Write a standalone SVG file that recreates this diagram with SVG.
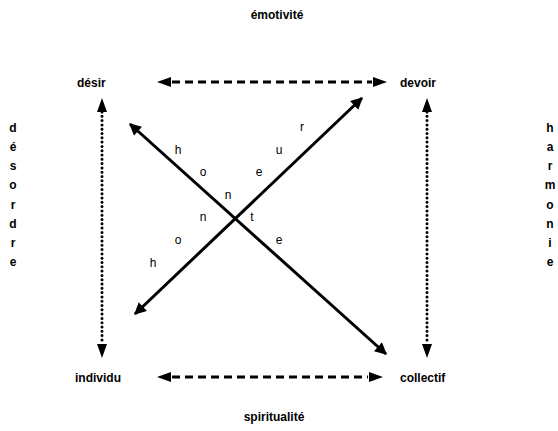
<svg xmlns="http://www.w3.org/2000/svg" width="558" height="431" viewBox="0 0 558 431">
<style>
.lbl{font-family:"Liberation Sans",Arial,sans-serif;font-weight:bold;font-size:12px;fill:#000}
.ltr{font-family:"Liberation Sans",Arial,sans-serif;font-size:12px;fill:#000;text-anchor:middle}
.vl{font-family:"Liberation Sans",Arial,sans-serif;font-weight:bold;font-size:12px;fill:#000;text-anchor:middle}
.dash{stroke:#000;stroke-width:3;fill:none;stroke-dasharray:8 5}
.dot{stroke:#000;stroke-width:3;fill:none;stroke-dasharray:0 4.3;stroke-linecap:round}
.solid{stroke:#000;stroke-width:3;fill:none}
</style>
<defs>
<marker id="ah" viewBox="0 0 10 10" refX="9" refY="5" markerWidth="4.2" markerHeight="4" markerUnits="strokeWidth" orient="auto-start-reverse">
<path d="M0,0 L10,5 L0,10 z" fill="#000"/>
</marker>
</defs>
<rect width="558" height="431" fill="#fff"/>
<g id="connectors">
<line class="dash" x1="172" y1="82" x2="372" y2="82"/>
<path d="M157,82 l14,-5 v10 z M387,82 l-14,-5 v10 z" fill="#000"/>
<line class="dash" x1="172" y1="377" x2="368" y2="377"/>
<path d="M157,377 l14,-5 v10 z M383,377 l-14,-5 v10 z" fill="#000"/>
<line class="dot" x1="102" y1="112" x2="102" y2="344"/>
<path d="M102,98 l-5,14 h10 z M102,358 l-5,-14 h10 z" fill="#000"/>
<line class="dot" x1="427" y1="112" x2="427" y2="344"/>
<path d="M427,98 l-5,14 h10 z M427,358 l-5,-14 h10 z" fill="#000"/>
<line class="solid" x1="130" y1="124" x2="386" y2="354" marker-start="url(#ah)" marker-end="url(#ah)"/>
<line class="solid" x1="135" y1="314" x2="362" y2="98" marker-start="url(#ah)" marker-end="url(#ah)"/>
</g>
<g id="desir"><text class="lbl" x="77" y="87">désir</text></g>
<g id="devoir"><text class="lbl" x="400" y="87">devoir</text></g>
<g id="individu"><text class="lbl" x="75" y="382">individu</text></g>
<g id="collectif"><text class="lbl" x="400" y="382">collectif</text></g>
<g id="emotivite"><text class="lbl" x="277" y="19" text-anchor="middle">émotivité</text></g>
<g id="spiritualite"><text class="lbl" x="274" y="421" text-anchor="middle">spiritualité</text></g>
<g id="desordre">
<text class="vl" x="13" y="132">d</text>
<text class="vl" x="13" y="151">é</text>
<text class="vl" x="13" y="170">s</text>
<text class="vl" x="13" y="189">o</text>
<text class="vl" x="13" y="209">r</text>
<text class="vl" x="13" y="228">d</text>
<text class="vl" x="13" y="247">r</text>
<text class="vl" x="13" y="266">e</text>
</g>
<g id="harmonie">
<text class="vl" x="550" y="132">h</text>
<text class="vl" x="550" y="151">a</text>
<text class="vl" x="550" y="170">r</text>
<text class="vl" x="550" y="189">m</text>
<text class="vl" x="550" y="209">o</text>
<text class="vl" x="550" y="228">n</text>
<text class="vl" x="550" y="247">i</text>
<text class="vl" x="550" y="266">e</text>
</g>
<g id="honneur">
<text class="ltr" x="178" y="154">h</text>
<text class="ltr" x="203" y="176">o</text>
<text class="ltr" x="228" y="199">n</text>
<text class="ltr" x="259" y="176">e</text>
<text class="ltr" x="279" y="154">u</text>
<text class="ltr" x="302" y="131">r</text>
</g>
<g id="honnete">
<text class="ltr" x="153" y="267">h</text>
<text class="ltr" x="178" y="244">o</text>
<text class="ltr" x="203" y="221">n</text>
<text class="ltr" x="252" y="221">t</text>
<text class="ltr" x="279" y="244">e</text>
</g>
</svg>
